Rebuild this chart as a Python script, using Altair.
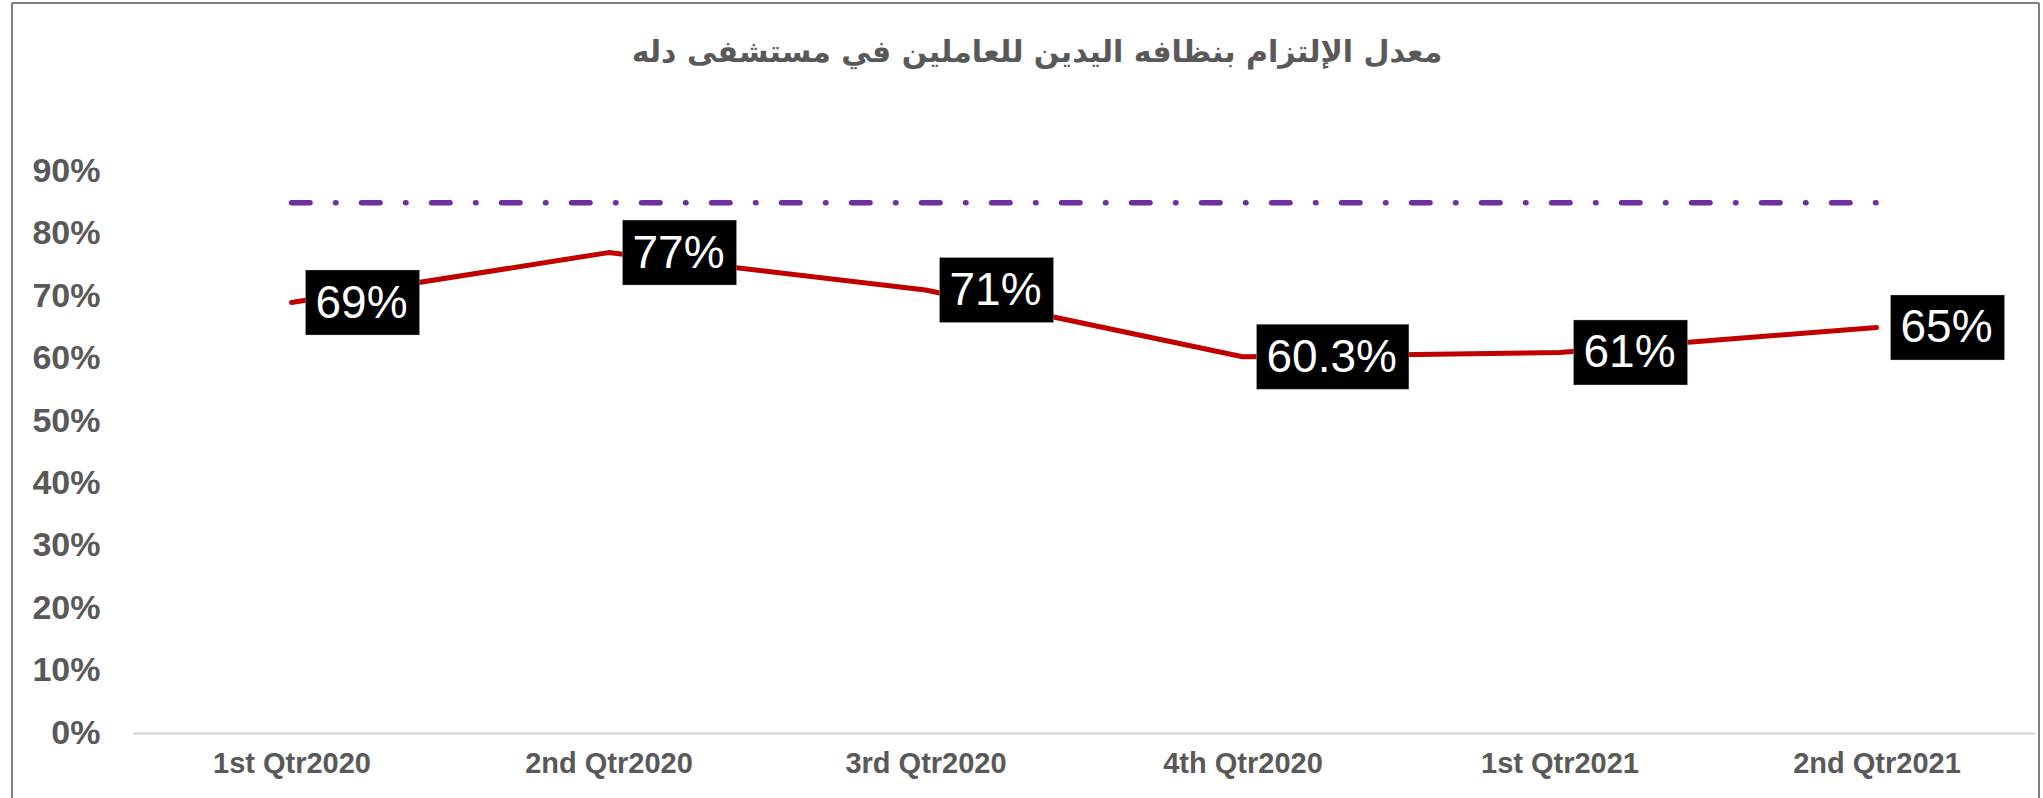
import altair as alt
import pandas as pd

quarters = ["1st Qtr2020", "2nd Qtr2020", "3rd Qtr2020", "4th Qtr2020", "1st Qtr2021", "2nd Qtr2021"]
compliance = [0.69, 0.77, 0.71, 0.603, 0.61, 0.65]
labels = ["69%", "77%", "71%", "60.3%", "61%", "65%"]
target = [0.85, 0.85, 0.85, 0.85, 0.85, 0.85]
title_text = "معدل الإلتزام بنظافه اليدين للعاملين في مستشفى دله"

# label-box geometry (derived from the label text)
FS = 46
char_em = {"0": 0.556, "1": 0.556, "2": 0.556, "3": 0.556, "4": 0.556, "5": 0.556,
           "6": 0.556, "7": 0.556, "8": 0.556, "9": 0.556, ".": 0.278, "%": 0.889}
R = 32.5
GAP = 14


def box_path(txt):
    w = sum(char_em[c] for c in txt) * FS + 22
    x0 = GAP / R
    x1 = (GAP + w) / R
    return f"M{x0:.4f},-1L{x1:.4f},-1L{x1:.4f},1L{x0:.4f},1Z"


df = pd.DataFrame({
    "q": quarters,
    "v": compliance,
    "label": labels,
    "target": target,
    "path": [box_path(t) for t in labels],
})

W, H = 1902, 561.5
xenc = alt.X("q:N", sort=quarters, title=None,
             scale=alt.Scale(paddingInner=0, paddingOuter=0),
             axis=alt.Axis(labelAngle=0, ticks=False, domainColor="#D9D9D9", domainWidth=2.5,
                           labelFont="Liberation Sans", labelFontWeight="bold", labelFontSize=29,
                           labelColor="#595959", labelPadding=16, grid=False))
yscale = alt.Scale(domain=[0, 0.9], nice=False)
yaxis = alt.Axis(format=".0%", values=[i / 10 for i in range(10)], ticks=False, domain=False, grid=False,
                 labelFont="Liberation Sans", labelFontWeight="bold", labelFontSize=34,
                 labelColor="#595959", labelPadding=33)

base = alt.Chart(df)

line = base.mark_line(color="#C00000", strokeWidth=5, strokeCap="round", strokeJoin="round").encode(
    x=xenc, y=alt.Y("v:Q", scale=yscale, axis=yaxis, title=None))

tline = base.mark_line(color="#7030A0", strokeWidth=5.5, strokeCap="round",
                       strokeDash=[18.5, 25.5, 0.5, 25.5]).encode(
    x=alt.X("q:N", sort=quarters), y=alt.Y("target:Q", scale=yscale))

boxes = base.mark_point(filled=True, fill="black", stroke="#BFBFBF", strokeWidth=0.4, opacity=1,
                        size=(2 * R) ** 2).encode(
    x=alt.X("q:N", sort=quarters), y=alt.Y("v:Q", scale=yscale),
    shape=alt.Shape("path:N", scale=None))

texts = base.mark_text(color="white", font="Liberation Sans", fontSize=FS, align="left",
                       baseline="middle", dx=GAP + 10, dy=1).encode(
    x=alt.X("q:N", sort=quarters), y=alt.Y("v:Q", scale=yscale), text="label:N")

frame = alt.Chart(pd.DataFrame({"k": [0]})).mark_rule(color="#7F7F7F", strokeWidth=2)
left = frame.encode(x=alt.value(-121), y=alt.value(-168.5), y2=alt.value(640))
top = frame.encode(x=alt.value(-121), x2=alt.value(1906), y=alt.value(-168.5))
right = frame.encode(x=alt.value(1906), y=alt.value(-168.5), y2=alt.value(640))

chart = alt.layer(line, tline, boxes, texts, left, top, right).properties(
    width=W, height=H,
    background="white",
    title=alt.TitleParams(title_text, font="DejaVu Sans", fontSize=30, fontWeight="bold",
                          color="#595959", anchor="middle", dx=-47, offset=0, dy=66, frame="group"),
    autosize=alt.AutoSizeParams(type="none"),
    padding={"left": 133, "top": 171.5, "right": 8, "bottom": 65},
).configure_view(stroke="transparent", strokeWidth=0)

chart.save("out.html", embed_options={"renderer": "svg", "actions": False})
